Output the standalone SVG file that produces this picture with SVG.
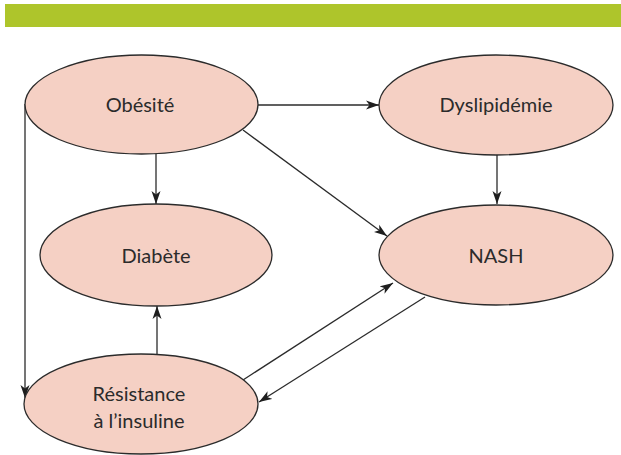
<svg xmlns="http://www.w3.org/2000/svg" width="621" height="455" viewBox="0 0 621 455">
<style>
.node{fill:#f5d0c4;stroke:#2b2b2b;stroke-width:1.3}
.lbl{font-family:Lato,"Open Sans",sans-serif;font-size:20px;fill:#2b2b2b;text-anchor:middle}
.edge{fill:none;stroke:#2b2b2b;stroke-width:1.3;marker-end:url(#ah)}
</style>
<defs>
<marker id="ah" markerUnits="userSpaceOnUse" markerWidth="14" markerHeight="10" refX="13" refY="5" orient="auto" viewBox="0 0 14 10">
<path d="M0,0.5 L13,5 L0,9.5 L3.5,5 Z" fill="#1e1e1e"/>
</marker>
</defs>
<rect x="5" y="4" width="616" height="23" fill="#aec52b"/>
<g id="connectors">
<line class="edge" x1="258" y1="105" x2="379" y2="105"/>
<line class="edge" x1="156" y1="154" x2="156" y2="204"/>
<line class="edge" x1="243" y1="130" x2="387" y2="236"/>
<line class="edge" x1="497" y1="155" x2="497" y2="204"/>
<line class="edge" x1="25" y1="104" x2="25" y2="398"/>
<line class="edge" x1="157" y1="354" x2="157" y2="306"/>
<line class="edge" x1="243" y1="380" x2="393" y2="283"/>
<line class="edge" x1="425" y1="297" x2="259" y2="402"/>
</g>
<g id="obesite">
<ellipse class="node" cx="141.5" cy="104.5" rx="116.5" ry="49.5"/>
<text class="lbl" x="140" y="112">Obésité</text>
</g>
<g id="dyslipidemie">
<ellipse class="node" cx="496" cy="105" rx="117" ry="50"/>
<text class="lbl" x="496" y="112">Dyslipidémie</text>
</g>
<g id="diabete">
<ellipse class="node" cx="156" cy="255" rx="116" ry="51"/>
<text class="lbl" x="156" y="263">Diabète</text>
</g>
<g id="nash">
<ellipse class="node" cx="496" cy="255" rx="117" ry="50"/>
<text class="lbl" x="496" y="263">NASH</text>
</g>
<g id="resistance">
<ellipse class="node" cx="141" cy="404" rx="117" ry="50"/>
<text class="lbl" x="139" y="401">Résistance</text>
<text class="lbl" x="139" y="428">à l’insuline</text>
</g>
</svg>
